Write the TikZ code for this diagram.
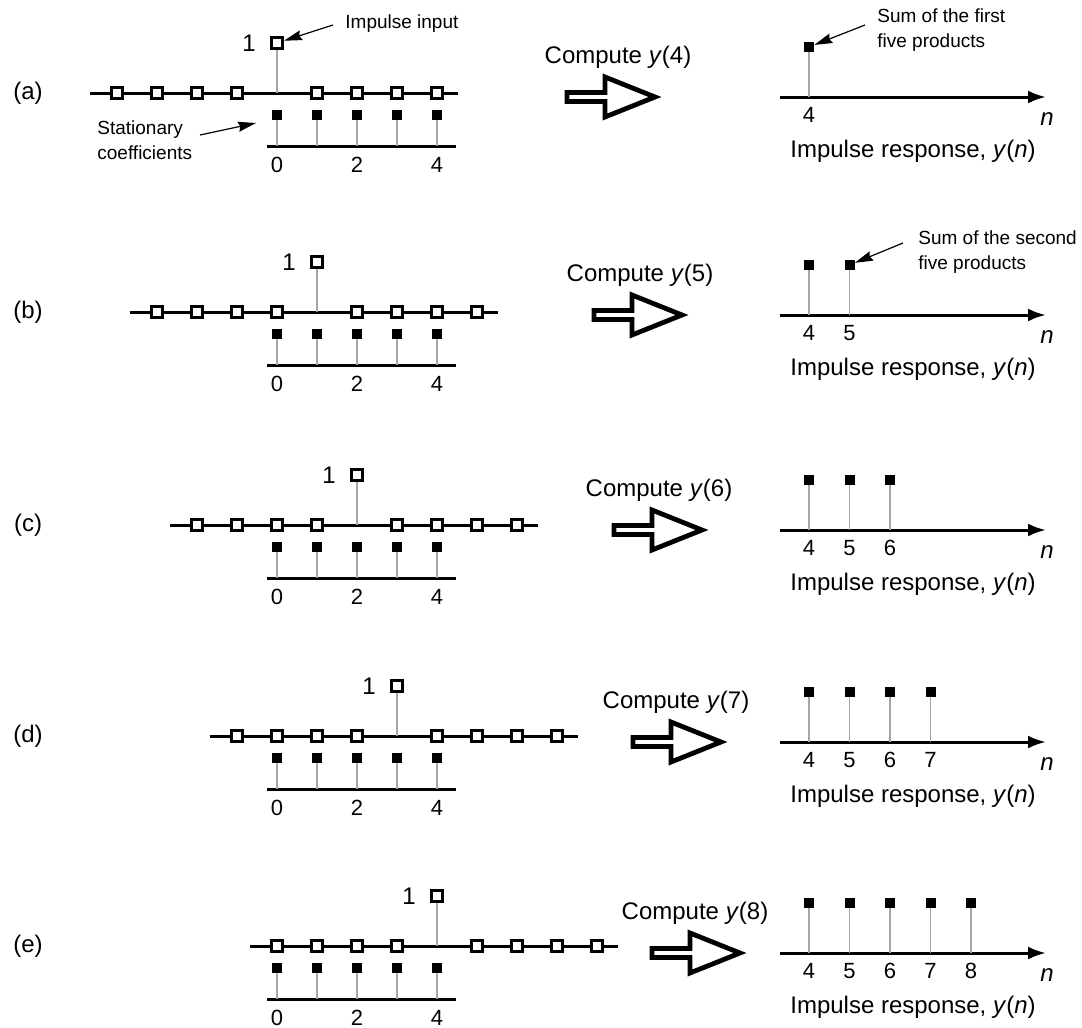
\documentclass[tikz,border=0pt]{standalone}
\usepackage{fontspec}
\setmainfont{Liberation Sans}
\usetikzlibrary{arrows.meta}

\tikzset{
	zelle/.style={draw, line width=1.4pt, fill=white, minimum size=5.6pt, inner sep=0pt},
	koeff/.style={fill=black, minimum size=5pt, inner sep=0pt},
	stiel/.style={draw=black!35, line width=0.8pt},
	achse/.style={line width=1.5pt},
	txt/.style={font=\fontsize{12}{14}\selectfont, inner sep=0pt},
	zahl/.style={font=\fontsize{11}{13}\selectfont, inner sep=0pt},
	notiz/.style={font=\fontsize{9.5}{12.5}\selectfont, align=left, inner sep=0pt},
	zeiger/.style={-{Stealth[length=9pt,width=5pt,inset=1pt]}, line width=0.6pt},
	block/.style={line width=2.4pt, line join=miter},
}

\begin{document}
\begin{tikzpicture}[x=0.5pt, y=-0.5pt]
	\useasboundingbox (0,0) rectangle (1082,1028);
	\foreach \k/\y/\ay/\name/\cx/\ax in {0/93/97/a/618/565, 1/312/315/b/640/592,
		2/525/530/c/659/612, 3/736/742/d/676/631, 4/946/953/e/695/650} {
		\pgfmathsetmacro\imp{277+40*\k}
		\pgfmathtruncatemacro\nr{\k+4}
		% Marke
		\node[txt] (lab-\name) at (28,\y) {(\name)};
		% Eingang
		\coordinate (sl-\name) at ({\imp-187},\y);
		\coordinate (sr-\name) at ({\imp+181},\y);
		\draw[achse] (sl-\name) -- (sr-\name);
		\coordinate (ib-\name) at (\imp,\y);
		\node[zelle] (in-\name) at (\imp,{\y-50}) {};
		\draw[stiel] (ib-\name) -- (in-\name);
		\node[txt, anchor=east] (eins-\name) at ({\imp-21},{\y-50}) {1};
		\foreach \j in {-4,-3,-2,-1,1,2,3,4}
			\node[zelle] (z-\name\j) at ({\imp+40*\j},\y) {};
		% Koeffizienten
		\coordinate (kl-\name) at (267,{\y+53});
		\coordinate (kr-\name) at (456,{\y+53});
		\draw[achse] (kl-\name) -- (kr-\name);
		\foreach \i in {0,...,4} {
			\node[koeff] (h-\name\i) at ({277+40*\i},{\y+22}) {};
			\coordinate (hb-\name\i) at ({277+40*\i},{\y+53});
			\draw[stiel] (h-\name\i) -- (hb-\name\i);
		}
		\foreach \i in {0,2,4}
			\node[zahl, anchor=base] (hz-\name\i) at ({277+40*\i},{\y+79}) {\i};
		% Pfeil
		\node[txt, anchor=base] (comp-\name) at (\cx,{\ay-34}) {Compute \textit{y}(\nr)};
		\draw[block] ({\ax+2},{\ay-4.5}) -- ({\ax+40},{\ay-4.5}) -- ({\ax+40},{\ay-20})
			-- ({\ax+90},\ay) -- ({\ax+40},{\ay+20}) -- ({\ax+40},{\ay+4.5})
			-- ({\ax+2},{\ay+4.5}) -- cycle;
		% Ausgang
		\coordinate (ol-\name) at (780,\ay);
		\coordinate (or-\name) at (1046,\ay);
		\draw[achse, -{Latex[length=9pt,width=6.5pt]}] (ol-\name) -- (or-\name);
		\foreach \m in {0,...,\k} {
			\pgfmathtruncatemacro\lab{\m+4}
			\node[koeff] (y-\name\m) at ({809+40.5*\m},{\ay-50}) {};
			\coordinate (yb-\name\m) at ({809+40.5*\m},\ay);
			\draw[stiel] (y-\name\m) -- (yb-\name\m);
			\node[zahl, anchor=base] (yz-\name\m) at ({809+40.5*\m},{\ay+25}) {\lab};
		}
		\node[txt, anchor=base] (n-\name) at (1047,{\ay+28}) {\textit{n}};
		\node[txt, anchor=base] (ir-\name) at (913,{\ay+60}) {Impulse response, \textit{y}(\textit{n})};
	}
	% Hinweise
	\node[notiz, anchor=north west] (impin) at (345,14) {Impulse input};
	\coordinate (impin-t) at (333,25);
	\draw[zeiger] (impin-t) -- (in-a);
	\node[notiz, anchor=north west] (stat) at (97,120) {Stationary\\coefficients};
	\coordinate (stat-t) at (200,135);
	\coordinate (stat-s) at (256,123);
	\draw[zeiger] (stat-t) -- (stat-s);
	\node[notiz, anchor=north west] (sum1) at (877,8) {Sum of the first\\five products};
	\coordinate (sum1-t) at (865,25);
	\draw[zeiger] (sum1-t) -- (y-a0);
	\node[notiz, anchor=north west] (sum2) at (918,230) {Sum of the second\\five products};
	\coordinate (sum2-t) at (903,243);
	\draw[zeiger] (sum2-t) -- (y-b1);
\end{tikzpicture}
\end{document}
